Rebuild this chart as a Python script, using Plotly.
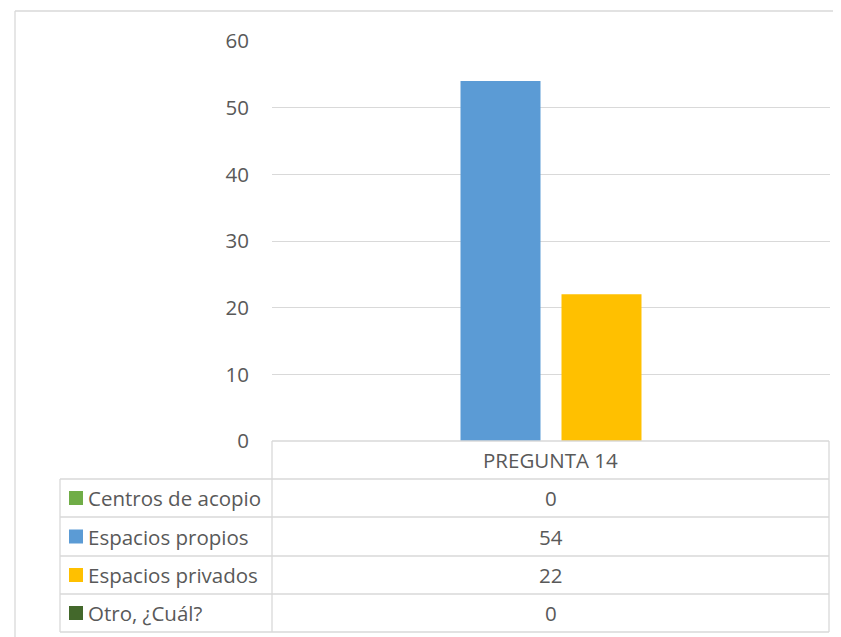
import plotly.graph_objects as go

categories = ["PREGUNTA 14"]
series_names = ["Centros de acopio", "Espacios propios", "Espacios privados", "Otro, ¿Cuál?"]
series_values = [[0], [54], [22], [0]]
series_colors = ["#70AD47", "#5B9BD5", "#FFC000", "#43682B"]
y_ticks = [0, 10, 20, 30, 40, 50, 60]

OFF = 8  # default page margin of the html body
W, H = 841 - OFF, 637 - OFF
L, R, T, B = 272 - OFF, 830 - OFF, 41 - OFF, 441 - OFF  # plot area in figure pixels

def px(x):
    # x given in page pixels
    return (x - OFF - L) / (R - L)

def py(y):
    return (B - (y - OFF)) / (B - T)

FONT = "Open Sans"
TXT = "#595959"
GRID = "#D9D9D9"
FS = 20.5

fig = go.Figure()
for name, vals, col in zip(series_names, series_values, series_colors):
    fig.add_trace(go.Bar(x=categories, y=vals, name=name, marker_color=col,
                         marker_line_width=0, showlegend=False))

shapes = []
annotations = []

def line(x0, y0, x1, y1, color=GRID, w=1.3):
    shapes.append(dict(type="line", xref="paper", yref="paper",
                       x0=px(x0), y0=py(y0), x1=px(x1), y1=py(y1),
                       line=dict(color=color, width=w), layer="above"))

# outer chart border
line(15, 11, 841, 11)
line(15, 11, 15, 637)

# data table
row_y = [441, 479, 517, 556, 594, 632]
tl, tm, tr = 60, 272, 829
line(tm, row_y[0], tr, row_y[0])
for yv in row_y[1:]:
    line(tl, yv, tr, yv)
line(tm, row_y[0], tm, row_y[-1])
line(tr, row_y[0], tr, row_y[-1])
line(tl, row_y[1], tl, row_y[-1])

cx = (tm + tr) / 2
annotations.append(dict(xref="paper", yref="paper", x=px(cx), y=py((row_y[0] + row_y[1]) / 2),
                        text=categories[0], showarrow=False, xanchor="center", yanchor="middle",
                        font=dict(family=FONT, size=FS, color=TXT)))
for i, (name, vals, col) in enumerate(zip(series_names, series_values, series_colors)):
    yc = (row_y[i + 1] + row_y[i + 2]) / 2
    shapes.append(dict(type="rect", xref="paper", yref="paper",
                       x0=px(69), x1=px(83), y0=py(yc - 7), y1=py(yc + 7),
                       fillcolor=col, line=dict(width=0), layer="above"))
    annotations.append(dict(xref="paper", yref="paper", x=px(86), y=py(yc),
                            text=name, showarrow=False, xanchor="left", yanchor="middle",
                            font=dict(family=FONT, size=FS, color=TXT)))
    annotations.append(dict(xref="paper", yref="paper", x=px(cx), y=py(yc),
                            text=str(vals[0]), showarrow=False, xanchor="center", yanchor="middle",
                            font=dict(family=FONT, size=FS, color=TXT)))

fig.update_layout(
    width=W, height=H,
    margin=dict(l=L, r=W - R, t=T, b=H - B, pad=0),
    paper_bgcolor="white", plot_bgcolor="white",
    barmode="group", bargap=0.276, bargroupgap=0.208,
    shapes=shapes, annotations=annotations,
    font=dict(family=FONT, color=TXT),
)
fig.update_xaxes(showticklabels=False, showgrid=False, zeroline=False, showline=False)
fig.update_yaxes(range=[0, 60], tickvals=y_ticks, showgrid=True, gridcolor=GRID, gridwidth=1.3,
                 zeroline=False, showline=False, ticks="", ticklabelstandoff=22,
                 tickfont=dict(family=FONT, size=FS, color=TXT))

fig.write_html("out.html")
